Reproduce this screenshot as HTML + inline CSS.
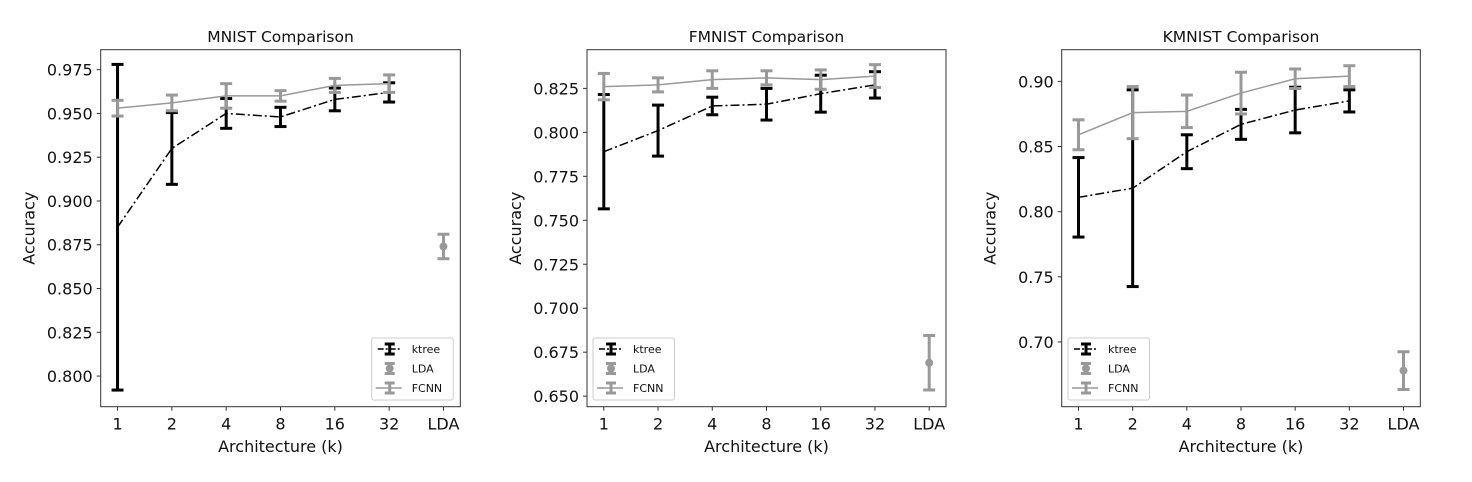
<!DOCTYPE html>
<html><head><meta charset="utf-8"><style>
body{margin:0;background:#fff;}
svg{display:block;font-family:"DejaVu Sans","Liberation Sans",sans-serif;}
</style></head><body>
<svg id="fig" width="1472" height="482" viewBox="0 0 1472 482" xmlns="http://www.w3.org/2000/svg"></svg>
<script>
const categories = ["1","2","4","8","16","32","LDA"];
const titles = ["MNIST Comparison","FMNIST Comparison","KMNIST Comparison"];
const ktreeMean = [[0.885,0.930,0.950,0.948,0.958,0.962],[0.789,0.801,0.815,0.816,0.822,0.827],[0.811,0.818,0.846,0.867,0.878,0.885]];
const ktreeErr = [[0.093,0.0205,0.0085,0.0055,0.0065,0.0055],[0.0325,0.0145,0.005,0.009,0.0105,0.0075],[0.0305,0.0755,0.013,0.0115,0.0175,0.0085]];
const fcnnMean = [[0.953,0.956,0.960,0.960,0.966,0.967],[0.826,0.827,0.830,0.831,0.830,0.832],[0.859,0.876,0.877,0.891,0.902,0.904]];
const fcnnErr = [[0.0045,0.0045,0.007,0.003,0.004,0.005],[0.0075,0.004,0.005,0.004,0.0055,0.0065],[0.0115,0.02,0.0125,0.016,0.0075,0.008]];
const ldaMean = [0.874,0.669,0.678];
const ldaErr = [0.007,0.0155,0.0145];
const yTicks = [[0.800,0.825,0.850,0.875,0.900,0.925,0.950,0.975],[0.650,0.675,0.700,0.725,0.750,0.775,0.800,0.825],[0.70,0.75,0.80,0.85,0.90]];
const yDecimals = [3,3,2];
const yLims = [[0.7825,0.9864],[0.644,0.847],[0.6503,0.9243]];

const svg = document.getElementById('fig');
const NS = 'http://www.w3.org/2000/svg';
function mk(tag, attrs, parent){const e=document.createElementNS(NS,tag);for(const k in attrs)e.setAttribute(k,attrs[k]);(parent||svg).appendChild(e);return e;}

const boxes = [[100.7,460.3],[587,946],[1061.7,1420.3]];
const plotTop=49.7, plotBot=406.7;
const GRAY='#999999';

for(let p=0;p<3;p++){
  const g = mk('g',{});
  
  
  const L=boxes[p][0], R=boxes[p][1];
  const xmin=-0.31, xmax=6.31;
  const X = i => L + (i - xmin)/(xmax-xmin)*(R-L);
  const y0=yLims[p][0], y1=yLims[p][1];
  const Y = v => plotBot - (v-y0)/(y1-y0)*(plotBot-plotTop);

  const t = mk('text',{x:(L+R)/2,y:42,'text-anchor':'middle','font-size':15.5,fill:'#111'},g);
  t.textContent = titles[p];
  
  

  yTicks[p].forEach(v=>{
    const y=Y(v);
    mk('line',{x1:L-4,x2:L,y1:y,y2:y,stroke:'#333','stroke-width':1},g);
    const tl=mk('text',{x:L-8,y:y+6,'text-anchor':'end','font-size':16,fill:'#111'},g);
    tl.textContent=v.toFixed(yDecimals[p]);
    
    
  });
  categories.forEach((c,i)=>{
    const x=X(i);
    mk('line',{x1:x,x2:x,y1:plotBot,y2:plotBot+4,stroke:'#333','stroke-width':1},g);
    const tl=mk('text',{x:x,y:plotBot+23,'text-anchor':'middle','font-size':16,fill:'#111'},g);
    tl.textContent=c;
    
    
  });
  const xl=mk('text',{x:(L+R)/2,y:452,'text-anchor':'middle','font-size':16,fill:'#111'},g);
  xl.textContent='Architecture (k)';
  
  
  const yx=L-66, yy=(plotTop+plotBot)/2;
  const yl=mk('text',{x:yx,y:yy,'text-anchor':'middle','font-size':16,fill:'#111',transform:`rotate(-90 ${yx} ${yy})`},g);
  yl.textContent='Accuracy';
  
  

  function errbar(x,m,e,col,w){
    mk('line',{x1:x,x2:x,y1:Y(m-e),y2:Y(m+e),stroke:col,'stroke-width':w},g);
    [m-e,m+e].forEach(v=>mk('line',{x1:x-6,x2:x+6,y1:Y(v),y2:Y(v),stroke:col,'stroke-width':3},g));
  }
  ktreeMean[p].forEach((m,i)=>errbar(X(i),m,ktreeErr[p][i],'#000',3));
  const kl=mk('polyline',{points:ktreeMean[p].map((m,i)=>X(i)+','+Y(m)).join(' '),fill:'none',stroke:'#000','stroke-width':1.5,'stroke-dasharray':'9,3,2,3'},g);
  
  
  fcnnMean[p].forEach((m,i)=>errbar(X(i),m,fcnnErr[p][i],GRAY,3));
  const fl=mk('polyline',{points:fcnnMean[p].map((m,i)=>X(i)+','+Y(m)).join(' '),fill:'none',stroke:GRAY,'stroke-width':1.5},g);
  
  
  errbar(X(6),ldaMean[p],ldaErr[p],GRAY,3);
  const ld=mk('circle',{cx:X(6),cy:Y(ldaMean[p]),r:4,fill:GRAY},g);
  
  

  mk('rect',{x:L,y:plotTop,width:R-L,height:plotBot-plotTop,fill:'none',stroke:'#333','stroke-width':1},g);

  const lx = p===0 ? 371.7 : (p===1 ? 593 : 1068);
  const lg=mk('g',{},g);
  
  
  mk('rect',{x:lx,y:338,width:81.5,height:62,fill:'#fff',stroke:'#ccc','stroke-width':1,rx:2},lg);
  const items=[['ktree','#000'],['LDA',GRAY],['FCNN',GRAY]];
  items.forEach((it,k)=>{
    const cy=349+k*19.5, cx=lx+18;
    if(k===0) mk('line',{x1:cx-12,x2:cx+12,y1:cy,y2:cy,stroke:'#000','stroke-width':1.5,'stroke-dasharray':'6,2,2,2'},lg);
    if(k===2) mk('line',{x1:cx-14,x2:cx+12,y1:cy,y2:cy,stroke:GRAY,'stroke-width':1.5},lg);
    mk('line',{x1:cx,x2:cx,y1:cy-5,y2:cy+5,stroke:it[1],'stroke-width':3},lg);
    mk('line',{x1:cx-5,x2:cx+5,y1:cy-5,y2:cy-5,stroke:it[1],'stroke-width':3},lg);
    mk('line',{x1:cx-5,x2:cx+5,y1:cy+5,y2:cy+5,stroke:it[1],'stroke-width':3},lg);
    if(k===1) mk('circle',{cx:cx,cy:cy,r:4,fill:GRAY},lg);
    const tx=mk('text',{x:lx+40,y:cy+4,'font-size':11,fill:'#111'},lg);
    tx.textContent=it[0];
    
    
  });
}
</script>
</body></html>
